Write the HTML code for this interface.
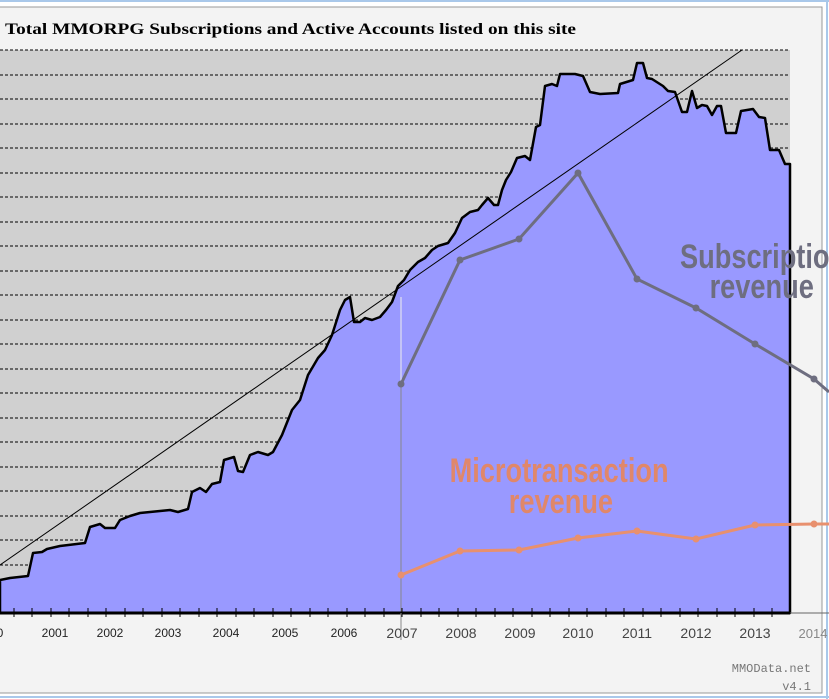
<!DOCTYPE html>
<html><head><style>
body{margin:0;width:829px;height:699px;overflow:hidden;background:#fff;}
</style></head><body>
<svg width="829" height="699" xmlns="http://www.w3.org/2000/svg" style="position:absolute;left:0;top:0">
<rect x="0" y="0" width="829" height="699" fill="#fff"/>
<line x1="0" y1="1" x2="829" y2="1" stroke="#a9c8ea" stroke-width="2"/>
<line x1="0" y1="697" x2="829" y2="697" stroke="#a9c8ea" stroke-width="2"/>
<line x1="827" y1="0" x2="827" y2="699" stroke="#a9c8ea" stroke-width="2"/>
<rect x="-2" y="7" width="824" height="686" fill="#f3f3f3" stroke="#999" stroke-width="1"/>
<rect x="0" y="50" width="790" height="563" fill="#d0d0d0"/>
<g stroke="#000" stroke-width="1" stroke-dasharray="3,2">
<line x1="0" y1="50" x2="790" y2="50"/><line x1="0" y1="75" x2="790" y2="75"/><line x1="0" y1="99" x2="790" y2="99"/><line x1="0" y1="124" x2="790" y2="124"/><line x1="0" y1="148" x2="790" y2="148"/><line x1="0" y1="173" x2="790" y2="173"/><line x1="0" y1="197" x2="790" y2="197"/><line x1="0" y1="222" x2="790" y2="222"/><line x1="0" y1="246" x2="790" y2="246"/><line x1="0" y1="271" x2="790" y2="271"/><line x1="0" y1="295" x2="790" y2="295"/><line x1="0" y1="320" x2="790" y2="320"/><line x1="0" y1="344" x2="790" y2="344"/><line x1="0" y1="369" x2="790" y2="369"/><line x1="0" y1="393" x2="790" y2="393"/><line x1="0" y1="418" x2="790" y2="418"/><line x1="0" y1="442" x2="790" y2="442"/><line x1="0" y1="467" x2="790" y2="467"/><line x1="0" y1="491" x2="790" y2="491"/><line x1="0" y1="516" x2="790" y2="516"/><line x1="0" y1="540" x2="790" y2="540"/><line x1="0" y1="565" x2="790" y2="565"/><line x1="0" y1="589" x2="790" y2="589"/>
</g>
<polygon fill="#9999ff" stroke="#000" stroke-width="2.5" stroke-linejoin="round" points="0,580 10,578 28,576 33,553 42,552 47,549 60,546 85,543 90,527 100,524 105,528 115,528 120,520 130,516 140,513 160,511 170,510 178,512 188,509 192,492 200,488 206,492 212,484 220,482 224,460 234,457 238,471 243,472 250,455 258,452 268,455 273,452 282,435 292,410 300,400 308,375 318,358 325,350 332,335 340,310 345,300 350,297 354,322 360,322 365,318 372,320 380,317 386,310 392,302 398,286 404,280 410,270 418,262 425,258 432,250 438,246 448,243 455,233 462,218 470,212 478,210 482,205 488,198 494,205 498,205 502,190 506,180 511,172 517,158 525,156 530,160 536,127 540,125 545,86 552,84 557,86 560,74 575,74 583,76 590,92 600,94 618,93 620,84 633,80 637,63 643,63 647,78 652,79 663,86 668,91 675,92 682,112 687,112 692,91 697,108 702,105 707,106 712,115 717,106 721,106 726,133 736,133 741,111 753,109 759,117 765,118 770,150 779,150 785,164 790,164 790,613 0,613"/>
<line x1="0" y1="565" x2="742" y2="50" stroke="#000" stroke-width="1"/>
<line x1="401" y1="297" x2="401" y2="613" stroke="#eee" stroke-width="1"/>
<line x1="401" y1="384" x2="401" y2="613" stroke="#888" stroke-width="1"/>
<line x1="0" y1="613" x2="790" y2="613" stroke="#000" stroke-width="3"/>
<line x1="790" y1="613" x2="829" y2="613" stroke="#666" stroke-width="1"/>
<line x1="401" y1="613" x2="401" y2="640" stroke="#888" stroke-width="1"/>
<g stroke="#000" stroke-width="1">
<line x1="14" y1="608" x2="14" y2="617"/><line x1="32" y1="608" x2="32" y2="617"/><line x1="51" y1="608" x2="51" y2="617"/><line x1="69" y1="608" x2="69" y2="617"/><line x1="88" y1="608" x2="88" y2="617"/><line x1="106" y1="608" x2="106" y2="617"/><line x1="125" y1="608" x2="125" y2="617"/><line x1="143" y1="608" x2="143" y2="617"/><line x1="162" y1="608" x2="162" y2="617"/><line x1="180" y1="608" x2="180" y2="617"/><line x1="199" y1="608" x2="199" y2="617"/><line x1="217" y1="608" x2="217" y2="617"/><line x1="236" y1="608" x2="236" y2="617"/><line x1="254" y1="608" x2="254" y2="617"/><line x1="273" y1="608" x2="273" y2="617"/><line x1="291" y1="608" x2="291" y2="617"/><line x1="310" y1="608" x2="310" y2="617"/><line x1="328" y1="608" x2="328" y2="617"/><line x1="347" y1="608" x2="347" y2="617"/><line x1="365" y1="608" x2="365" y2="617"/><line x1="384" y1="608" x2="384" y2="617"/><line x1="402" y1="608" x2="402" y2="617"/><line x1="421" y1="608" x2="421" y2="617"/><line x1="439" y1="608" x2="439" y2="617"/><line x1="458" y1="608" x2="458" y2="617"/><line x1="476" y1="608" x2="476" y2="617"/><line x1="495" y1="608" x2="495" y2="617"/><line x1="513" y1="608" x2="513" y2="617"/><line x1="532" y1="608" x2="532" y2="617"/><line x1="550" y1="608" x2="550" y2="617"/><line x1="569" y1="608" x2="569" y2="617"/><line x1="587" y1="608" x2="587" y2="617"/><line x1="606" y1="608" x2="606" y2="617"/><line x1="624" y1="608" x2="624" y2="617"/><line x1="643" y1="608" x2="643" y2="617"/><line x1="661" y1="608" x2="661" y2="617"/><line x1="680" y1="608" x2="680" y2="617"/><line x1="698" y1="608" x2="698" y2="617"/><line x1="717" y1="608" x2="717" y2="617"/><line x1="735" y1="608" x2="735" y2="617"/><line x1="754" y1="608" x2="754" y2="617"/><line x1="772" y1="608" x2="772" y2="617"/>
</g>
<polyline fill="none" stroke="#6e6e80" stroke-width="3" points="401,384 460,260 519,239 578,173 637,279 696,308 755,344 814,379 829,392"/>
<g fill="#6e6e80"><circle cx="401" cy="384" r="3.5"/><circle cx="460" cy="260" r="3.5"/><circle cx="519" cy="239" r="3.5"/><circle cx="578" cy="173" r="3.5"/><circle cx="637" cy="279" r="3.5"/><circle cx="696" cy="308" r="3.5"/><circle cx="755" cy="344" r="3.5"/><circle cx="814" cy="379" r="3.5"/></g>
<polyline fill="none" stroke="#e8906e" stroke-width="3" points="401,575 460,551 519,550 578,538 637,531 696,539 755,525 814,524 829,524"/>
<g fill="#e8906e"><circle cx="401" cy="575" r="3.5"/><circle cx="460" cy="551" r="3.5"/><circle cx="519" cy="550" r="3.5"/><circle cx="578" cy="538" r="3.5"/><circle cx="637" cy="531" r="3.5"/><circle cx="696" cy="539" r="3.5"/><circle cx="755" cy="525" r="3.5"/><circle cx="814" cy="524" r="3.5"/></g>
<g font-family="Liberation Sans, sans-serif" font-size="34" font-weight="bold" transform="scale(0.8,1)">
<text x="850" y="268" fill="#6e6e80">Subscription</text>
<text x="887" y="298" fill="#6e6e80">revenue</text>
<text x="562" y="482" fill="#e0876a">Microtransaction</text>
<text x="636" y="513" fill="#e0876a">revenue</text>
</g>
<text x="5" y="34" font-family="Liberation Serif, serif" font-size="16" font-weight="bold" fill="#000" textLength="571" lengthAdjust="spacingAndGlyphs">Total MMORPG Subscriptions and Active Accounts listed on this site</text>
<g font-family="Liberation Sans, sans-serif" font-size="12" fill="#222" text-anchor="middle">
<text x="0" y="637">0</text><text x="55" y="637">2001</text><text x="110" y="637">2002</text><text x="168" y="637">2003</text><text x="226" y="637">2004</text><text x="285" y="637">2005</text><text x="344" y="637">2006</text>
</g>
<g font-family="Liberation Sans, sans-serif" font-size="14" fill="#444" text-anchor="middle">
<text x="402" y="638">2007</text><text x="461" y="638">2008</text><text x="520" y="638">2009</text><text x="578" y="638">2010</text><text x="637" y="638">2011</text><text x="696" y="638">2012</text><text x="755" y="638">2013</text>
</g>
<text x="813" y="638" font-family="Liberation Sans, sans-serif" font-size="13" fill="#888" text-anchor="middle">2014</text>
<g font-family="Liberation Mono, monospace" font-size="12" fill="#777" text-anchor="end">
<text x="811" y="672">MMOData.net</text><text x="811" y="690">v4.1</text>
</g>
</svg>
</body></html>
